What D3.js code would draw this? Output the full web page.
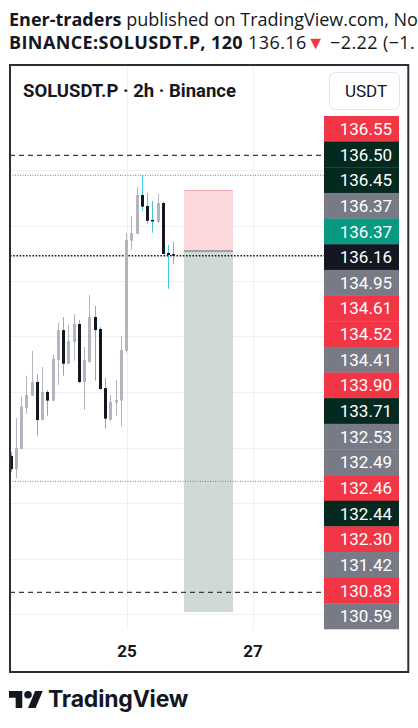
<!DOCTYPE html>
<html><head><meta charset="utf-8">
<script src="https://cdn.jsdelivr.net/npm/d3@7"></script>
<style>
html,body{margin:0;padding:0;background:#fff;overflow:hidden}
svg{display:block}
</style></head><body>
<svg id="c" width="418" height="728"></svg>
<script>
// ---------- DATA ----------
const candleStart = "2025-11-23T04:00";   // first 2h bar
const opens  = [135.370,135.322,135.395,135.543,135.587,135.636,135.499,135.600,135.569,135.716,135.823,135.702,135.781,135.845,135.636,135.708,135.870,135.827,135.614,135.500,135.561,135.569,135.749,136.145,136.170,136.310,136.270,136.220,136.214,136.281,136.101,136.097];
const highs  = [135.384,135.506,135.583,135.659,135.748,135.664,135.690,135.607,135.733,135.849,135.870,135.843,135.881,135.859,135.762,135.950,135.910,135.834,135.650,135.589,135.643,135.802,136.173,136.234,136.339,136.382,136.317,136.288,136.314,136.285,136.130,136.141];
const lows   = [135.312,135.290,135.393,135.521,135.586,135.443,135.498,135.515,135.565,135.626,135.659,135.701,135.713,135.632,135.536,135.705,135.641,135.608,135.468,135.497,135.515,135.475,135.742,136.113,136.170,136.253,136.206,136.174,136.210,136.097,135.972,136.062];
const closes = [135.322,135.398,135.547,135.589,135.636,135.499,135.600,135.569,135.719,135.823,135.702,135.784,135.845,135.636,135.715,135.870,135.823,135.611,135.504,135.564,135.571,135.751,136.148,136.173,136.310,136.268,136.217,136.216,136.281,136.097,136.094,136.091];

const gridPrices = [136.4,136.2,136.0,135.8,135.6,135.4,135.2,135.0,134.8];
const dayTicks = ["2025-11-25T00:00","2025-11-27T00:00"];

const linePrices = [136.453,136.381,136.091,135.278,134.878];
const lineKinds  = ["dashed","dotted","last","dotted","dashed"];

const boxPrices = [136.328,136.108,134.807];           // stop, entry, target
const boxTimes  = ["2025-11-25T21:54","2025-11-26T16:34"];

const labelValues = ["136.55","136.50","136.45","136.37","136.37","136.16","134.95","134.61","134.52","134.41","133.90","133.71","132.53","132.49","132.46","132.44","132.30","131.42","130.83","130.59"];
const labelKinds  = ["sell","dark","dark","gray","buy","last","gray","sell","sell","gray","sell","dark","gray","gray","sell","dark","sell","gray","sell","gray"];

// ---------- SETUP ----------
const parse = d3.timeParse("%Y-%m-%dT%H:%M");
const t0 = parse(candleStart);
const times = opens.map((_, i) => d3.timeHour.offset(t0, 2 * i));
const candles = times.map((t, i) => ({t, o: opens[i], h: highs[i], l: lows[i], c: closes[i]}));

const svg = d3.select("#c");
const plotL = 10, plotR = 324, plotT = 65, plotB = 630;

const x = d3.scaleTime()
  .domain([parse("2025-11-23T03:37"), parse("2025-11-28T03:14")])
  .range([plotL, plotR]);
const y = d3.scaleLinear().domain([134.8, 136.4]).range([614, 170]);

const FONT = "Roboto, 'Open Sans', sans-serif";

// clip for plot
svg.append("defs").append("clipPath").attr("id", "pc")
  .append("rect").attr("x", plotL).attr("y", plotT).attr("width", plotR - plotL).attr("height", plotB - plotT);

const plot = svg.append("g").attr("clip-path", "url(#pc)");

// grid
plot.append("g").selectAll("line").data(gridPrices).join("line")
  .attr("x1", plotL).attr("x2", plotR)
  .attr("y1", d => Math.round(y(d)) + 0.5).attr("y2", d => Math.round(y(d)) + 0.5)
  .attr("stroke", "#eef0f4").attr("stroke-width", 1);
plot.append("g").selectAll("line").data(dayTicks.map(parse)).join("line")
  .attr("x1", d => Math.round(x(d)) + 0.5).attr("x2", d => Math.round(x(d)) + 0.5)
  .attr("y1", plotT).attr("y2", plotB)
  .attr("stroke", "#eef0f4").attr("stroke-width", 1);

// position box
const bx0 = x(parse(boxTimes[0])), bx1 = x(parse(boxTimes[1]));
plot.append("rect").attr("x", bx0).attr("width", bx1 - bx0)
  .attr("y", y(boxPrices[0])).attr("height", y(boxPrices[1]) - y(boxPrices[0]))
  .attr("fill", "#fcd7db");
plot.append("rect").attr("x", bx0).attr("width", bx1 - bx0)
  .attr("y", y(boxPrices[1])).attr("height", y(boxPrices[2]) - y(boxPrices[1]))
  .attr("fill", "#cfdad7");
plot.append("line").attr("x1", bx0).attr("x2", bx1)
  .attr("y1", y(boxPrices[0]) + 0.5).attr("y2", y(boxPrices[0]) + 0.5)
  .attr("stroke", "#f5aab1").attr("stroke-width", 1);
plot.append("line").attr("x1", bx0).attr("x2", bx1)
  .attr("y1", y(boxPrices[1])).attr("y2", y(boxPrices[1]))
  .attr("stroke", "#8a8d96").attr("stroke-width", 1.5);

// horizontal lines
const lineStyle = {
  dashed: {stroke: "#363a45", w: 1.3, dash: "5,4"},
  dotted: {stroke: "#787b86", w: 1, dash: "1,1.5"},
  last:   {stroke: "#131722", w: 1.6, dash: "1.6,1.6"}
};
plot.append("g").selectAll("line").data(linePrices).join("line")
  .attr("x1", plotL).attr("x2", plotR)
  .attr("y1", d => y(d)).attr("y2", d => y(d))
  .attr("stroke", (d, i) => lineStyle[lineKinds[i]].stroke)
  .attr("stroke-width", (d, i) => lineStyle[lineKinds[i]].w)
  .attr("stroke-dasharray", (d, i) => lineStyle[lineKinds[i]].dash);

// candles
const UP = "#b2b5be", DOWN = "#131722", DOWNWICK = "#45c9de";
const cg = plot.append("g").selectAll("g").data(candles).join("g");
cg.append("line")
  .attr("x1", d => Math.round(x(d.t) - 1.5) + 1.5).attr("x2", d => Math.round(x(d.t) - 1.5) + 1.5)
  .attr("y1", d => y(d.h)).attr("y2", d => y(d.l))
  .attr("stroke", d => d.c >= d.o ? UP : DOWNWICK).attr("stroke-width", 1);
cg.append("rect")
  .attr("x", d => Math.round(x(d.t) - 1.5)).attr("width", 3)
  .attr("y", d => y(Math.max(d.o, d.c)))
  .attr("height", d => Math.max(1.5, y(Math.min(d.o, d.c)) - y(Math.max(d.o, d.c))))
  .attr("fill", d => d.c >= d.o ? UP : DOWN);

// x axis labels
svg.append("g").selectAll("text").data(dayTicks.map(parse)).join("text")
  .attr("x", d => x(d) + 0.5).attr("y", 657)
  .attr("text-anchor", "middle")
  .attr("font-family", FONT).attr("font-weight", 700).attr("font-size", 17)
  .attr("fill", "#131722")
  .text(d3.timeFormat("%-d"));

// price labels (stacked)
const labelColor = {sell: "#f23645", dark: "#04291f", gray: "#787b86", buy: "#089981", last: "#131722"};
const band = d3.scaleBand().domain(d3.range(labelValues.length)).range([116, 629]).padding(0);
const lg = svg.append("g").selectAll("g").data(labelValues).join("g")
  .attr("transform", (d, i) => `translate(0,${band(i)})`);
lg.append("rect").attr("x", 324).attr("width", 75).attr("height", band.bandwidth() + 0.3)
  .attr("fill", (d, i) => labelColor[labelKinds[i]]);
lg.append("text").attr("x", 392).attr("y", band.bandwidth() / 2).attr("dy", "0.36em")
  .attr("text-anchor", "end")
  .attr("font-family", FONT).attr("font-size", 17).attr("fill", "#ffffff")
  .text(d => d);

// chart header (legend)
svg.append("text").attr("x", 23).attr("y", 97)
  .attr("font-family", FONT).attr("font-weight", 700).attr("font-size", 18.5).attr("fill", "#131722")
  .text("SOLUSDT.P · 2h · Binance");
svg.append("rect").attr("x", 329.5).attr("y", 72.5).attr("width", 70).attr("height", 37).attr("rx", 6)
  .attr("fill", "#ffffff").attr("stroke", "#e0e3eb");
svg.append("text").attr("x", 366).attr("y", 97).attr("text-anchor", "middle")
  .attr("font-family", FONT).attr("font-size", 17).attr("fill", "#131722")
  .text("USDT");

// frame
svg.append("rect").attr("x", 10).attr("y", 65).attr("width", 398.3).attr("height", 607)
  .attr("fill", "none").attr("stroke", "#2a2e39").attr("stroke-width", 2);

// top publication text (only the part visible in the original snapshot)
const TF = "'Open Sans', 'Noto Sans', sans-serif";
const t1 = svg.append("text").attr("x", 9).attr("y", 25.5).attr("font-family", TF).attr("font-size", 18).attr("fill", "#131722");
t1.append("tspan").attr("font-weight", 700).text("Ener-traders");
t1.append("tspan").text(" published on TradingView.com, No");
const t2 = svg.append("text").attr("x", 9).attr("y", 48.5).attr("font-family", TF).attr("font-size", 18)
  .attr("letter-spacing", 0.4).attr("fill", "#131722");
t2.append("tspan").attr("font-weight", 700).text("BINANCE:SOLUSDT.P, 120");
t2.append("tspan").text(" 136.16");
t2.append("tspan").attr("fill", "#f23645").text("▼");
t2.append("tspan").text(" −2.22 (−1.");

// TradingView logo
const logo = svg.append("g").attr("transform", "translate(9,687.2) scale(0.95)").attr("fill", "#131722");
logo.append("path").attr("d", "M14 22H7V11H0V4h14v18zM28 22h-8l7.5-18h8L28 22z");
logo.append("circle").attr("cx", 20).attr("cy", 8).attr("r", 4);
svg.append("text").attr("x", 48).attr("y", 707)
  .attr("font-family", "Inter, Roboto, sans-serif").attr("font-weight", 700).attr("font-size", 23)
  .attr("letter-spacing", -0.2).attr("fill", "#131722")
  .text("TradingView");
</script>
</body></html>
